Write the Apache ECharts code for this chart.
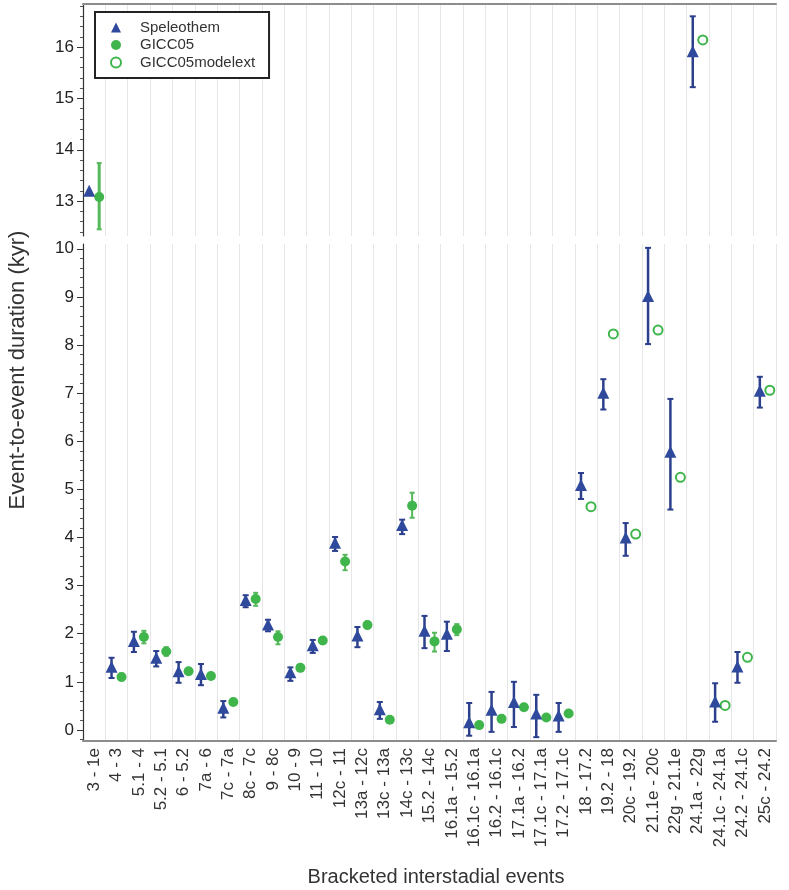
<!DOCTYPE html>
<html><head><meta charset="utf-8">
<script src="https://cdn.jsdelivr.net/npm/echarts@6/dist/echarts.min.js"></script>
<style>html,body{margin:0;padding:0;background:#fff}#c{width:789px;height:890px}</style>
</head><body><div id="c"></div>
<script>
const categories = ['3 - 1e','4 - 3','5.1 - 4','5.2 - 5.1','6 - 5.2','7a - 6','7c - 7a','8c - 7c','9 - 8c','10 - 9','11 - 10','12c - 11','13a - 12c','13c - 13a','14c - 13c','15.2 - 14c','16.1a - 15.2','16.1c - 16.1a','16.2 - 16.1c','17.1a - 16.2','17.1c - 17.1a','17.2 - 17.1c','18 - 17.2','19.2 - 18','20c - 19.2','21.1e - 20c','22g - 21.1e','24.1a - 22g','24.1c - 24.1a','24.2 - 24.1c','25c - 24.2'];
const speleothem     = [13.18,1.29,1.83,1.48,1.20,1.14,0.44,2.68,2.17,1.18,1.74,3.87,1.94,0.41,4.24,2.04,1.98,0.14,0.40,0.56,0.32,0.28,5.07,6.99,3.98,9.00,5.76,15.90,0.57,1.30,7.03];
const speleothemLow  = [null,1.08,1.62,1.32,0.98,0.93,0.26,2.55,2.05,1.02,1.60,3.72,1.72,0.23,4.07,1.70,1.64,-0.12,-0.04,0.06,-0.15,-0.04,4.80,6.66,3.62,8.02,4.58,15.22,0.17,0.98,6.70];
const speleothemHigh = [null,1.50,2.04,1.64,1.41,1.37,0.60,2.80,2.29,1.30,1.87,4.01,2.14,0.58,4.37,2.37,2.25,0.56,0.79,1.00,0.73,0.56,5.34,7.29,4.30,10.02,6.88,16.60,0.97,1.62,7.34];
const gicc05     = [13.08,1.10,1.93,1.63,1.22,1.12,0.58,2.72,1.93,1.29,1.86,3.50,2.18,0.21,4.66,1.84,2.09,0.10,0.23,0.47,0.26,0.34,null,null,null,null,null,null,null,null,null];
const gicc05Low  = [12.45,1.03,1.80,1.54,1.16,1.06,0.53,2.58,1.78,1.23,1.79,3.32,2.11,0.16,4.41,1.63,1.97,0.05,0.18,0.42,0.21,0.29,null,null,null,null,null,null,null,null,null];
const gicc05High = [13.74,1.17,2.06,1.72,1.28,1.18,0.63,2.85,2.05,1.35,1.93,3.64,2.25,0.26,4.93,2.02,2.20,0.15,0.28,0.52,0.31,0.39,null,null,null,null,null,null,null,null,null];
const gicc05modelext = [null,null,null,null,null,null,null,null,null,null,null,null,null,null,null,null,null,null,null,null,null,null,4.64,8.23,4.07,8.31,5.25,16.14,0.51,1.51,7.06];
const upperTickLabels = [13,14,15,16];
const lowerTickLabels = [0,1,2,3,4,5,6,7,8,9,10];

const BLUE = '#2f4a9c', BLUE_BAR = '#2c3f8c', GREEN = '#3fb54b', GREEN_BAR = '#56b85a';
const FONT = 'Liberation Sans, Arial, sans-serif';
const SPLIT = 12; // values above belong to the upper (broken) segment
function seg(v){ return v >= SPLIT ? 0 : 1; }
function pts(vals, g){ const out=[]; vals.forEach((v,i)=>{ if(v!=null && seg(v)===g) out.push([i,v]); }); return out; }
function errs(vals, lo, hi, g){ const out=[]; vals.forEach((v,i)=>{ if(v!=null && lo[i]!=null && seg(v)===g) out.push([i,lo[i],hi[i]]); }); return out; }
function minors(a,b,step){ const r=[]; for(let v=a; v<=b+1e-9; v+=step){ const x=Math.round(v*10)/10; if(Math.abs(x-Math.round(x))>1e-6) r.push(x);} return r; }

function errRender(offset, color, width, cap){
  return function(params, api){
    const i = api.value(0), lo = api.value(1), hi = api.value(2);
    const a = api.coord([i, lo]), b = api.coord([i, hi]);
    const x = a[0] + offset;
    const w = (i === 0 && color === GREEN_BAR) ? 3 : width;
    return {type:'group', children:[
      {type:'line', shape:{x1:x,y1:a[1],x2:x,y2:b[1]}, style:{stroke:color,lineWidth:w}},
      {type:'line', shape:{x1:x-cap,y1:a[1],x2:x+cap,y2:a[1]}, style:{stroke:color,lineWidth:2}},
      {type:'line', shape:{x1:x-cap,y1:b[1],x2:x+cap,y2:b[1]}, style:{stroke:color,lineWidth:2}}
    ]};
  };
}

const ranges = [{min:12.32,max:16.84},{min:-0.23,max:10.1}];
const tickLabels = [upperTickLabels, lowerTickLabels];
const minorVals = [minors(12.4,16.8,0.2), minors(-0.2,10.0,0.2)];

const grid = [
  {left:83, right:13, top:4, height:232},
  {left:83, right:13, top:244, bottom:149}
];
const xAxis = [0,1].map(g=>({
  type:'category', gridIndex:g, data:categories, boundaryGap:true,
  position: g===0 ? 'top' : 'bottom',
  axisLine:{show:true, onZero:false, lineStyle:{color:'#8c8c8c', width:2}},
  axisTick:{show:false},
  axisLabel: g===0 ? {show:false} : {show:true, rotate:90, interval:0, fontSize:17, color:'#333', margin:7, fontFamily:FONT},
  splitLine:{show:true, interval:0, lineStyle:{color:'#e6e6e6', width:1}}
}));
const yAxis = [];
[0,1].forEach(g=>{
  yAxis.push({type:'value', gridIndex:g, min:ranges[g].min, max:ranges[g].max,
    axisLine:{show:true, onZero:false, lineStyle:{color:'#333', width:1.2}},
    axisTick:{show:true, length:6, customValues:tickLabels[g], lineStyle:{color:'#333'}},
    axisLabel:{show:true, customValues:tickLabels[g], fontSize:17, color:'#222', margin:9, fontFamily:FONT},
    splitLine:{show:false}});
  yAxis.push({type:'value', gridIndex:g, min:ranges[g].min, max:ranges[g].max, position:'left',
    axisLine:{show:false, onZero:false},
    axisTick:{show:true, length:3, customValues:minorVals[g], lineStyle:{color:'#555'}},
    axisLabel:{show:false}, splitLine:{show:false}});
});

const series = [];
[0,1].forEach(g=>{
  const xi = g, yi = g*2;
  series.push({type:'custom', name:'SpelErr', xAxisIndex:xi, yAxisIndex:yi, z:2, silent:true,
    renderItem: errRender(-5, BLUE_BAR, 2.5, 3), encode:{x:0,y:[1,2]},
    data: errs(speleothem, speleothemLow, speleothemHigh, g)});
  series.push({type:'custom', name:'GiccErr', xAxisIndex:xi, yAxisIndex:yi, z:2, silent:true,
    renderItem: errRender(5, GREEN_BAR, 2, 2.5), encode:{x:0,y:[1,2]},
    data: errs(gicc05, gicc05Low, gicc05High, g)});
  series.push({type:'scatter', name:'Speleothem', xAxisIndex:xi, yAxisIndex:yi, z:4,
    symbol:'triangle', symbolSize:[12,12], symbolOffset:[-5,-1], itemStyle:{color:BLUE, opacity:1},
    data: pts(speleothem, g)});
  series.push({type:'scatter', name:'GICC05', xAxisIndex:xi, yAxisIndex:yi, z:3,
    symbol:'circle', symbolSize:10, symbolOffset:[5,0], itemStyle:{color:GREEN, opacity:1},
    data: pts(gicc05, g)});
  series.push({type:'scatter', name:'GICC05modelext', xAxisIndex:xi, yAxisIndex:yi, z:3,
    symbol:'circle', symbolSize:9, symbolOffset:[5,0], itemStyle:{color:'#fff', borderColor:GREEN, borderWidth:2, opacity:1},
    data: pts(gicc05modelext, g)});
});

const option = {
  animation:false,
  backgroundColor:'#fff',
  grid, xAxis, yAxis, series,
  legend:{
    orient:'vertical', left:95, top:12,
    data:[{name:'Speleothem', icon:'triangle'},{name:'GICC05', icon:'circle'},{name:'GICC05modelext', icon:'circle'}],
    itemWidth:10, itemHeight:10, itemGap:2.5,
    padding:[8,14,8,15],
    borderColor:'#222', borderWidth:2, backgroundColor:'#fff',
    textStyle:{fontSize:15, color:'#333', lineHeight:15, padding:[0,0,0,14], fontFamily:FONT},
    selectedMode:false
  },
  graphic:[
    {type:'text', x:18, y:370, rotation:Math.PI/2,
      style:{text:'Event-to-event duration (kyr)', x:0, y:0, textAlign:'center', textVerticalAlign:'middle', verticalAlign:'middle', fontSize:22, fill:'#333', fontFamily:FONT}},
    {type:'text', x:436, y:877,
      style:{text:'Bracketed interstadial events', x:0, y:0, textAlign:'center', textVerticalAlign:'middle', verticalAlign:'middle', fontSize:20, fill:'#333', fontFamily:FONT}}
  ]
};
const chart = echarts.init(document.getElementById('c'), null, {renderer:'canvas'});
chart.setOption(option);
</script>
</body></html>
